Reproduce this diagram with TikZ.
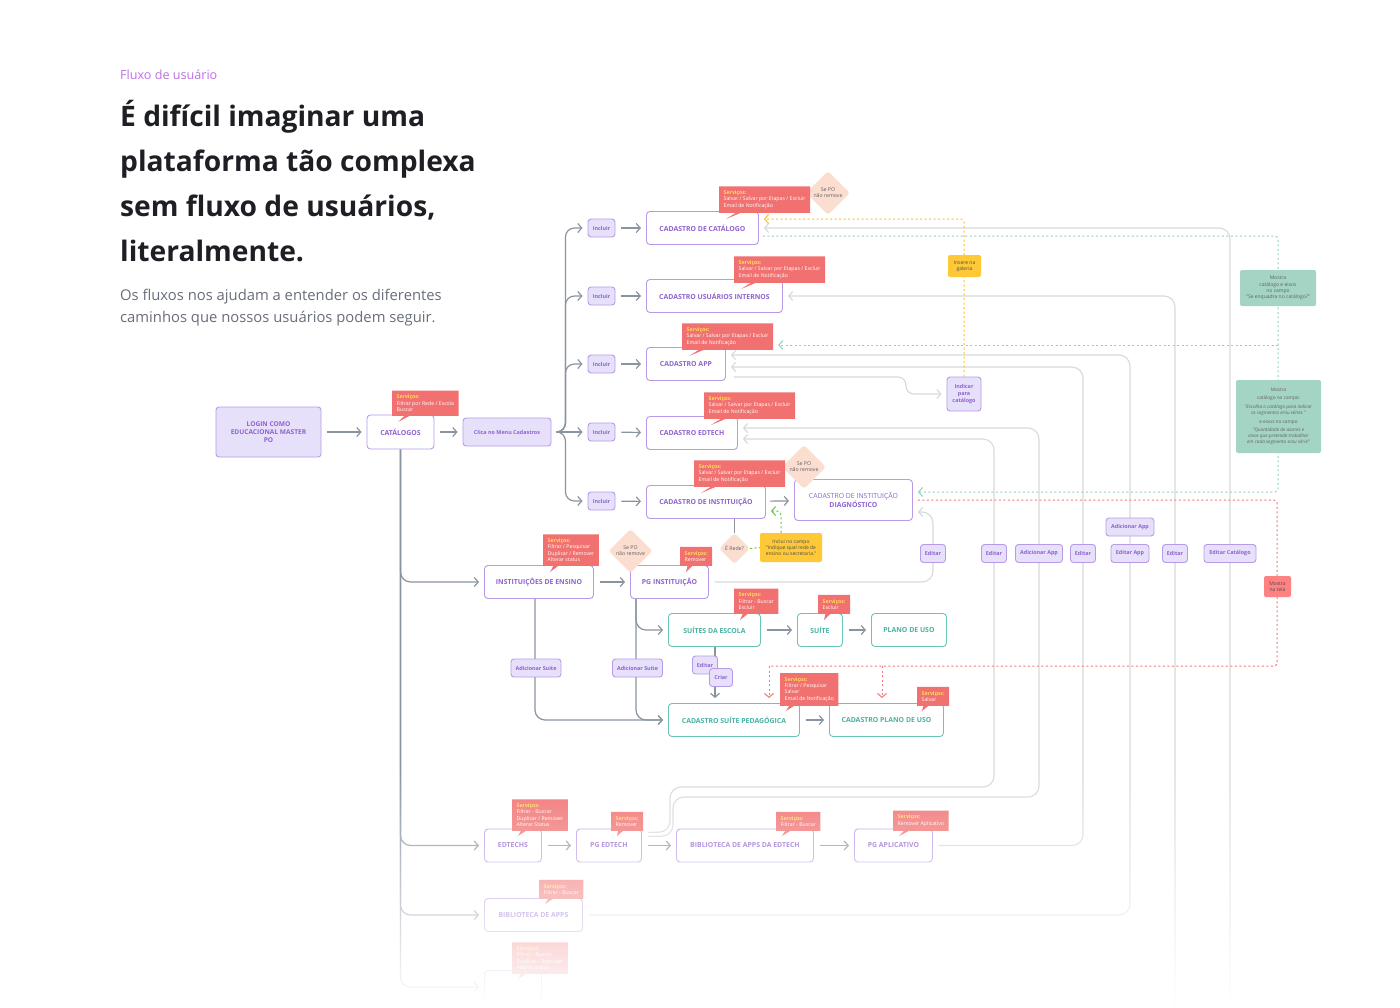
\documentclass[tikz,border=0pt]{standalone}
\usepackage{fontspec}
\setmainfont{Open Sans}
\usetikzlibrary{arrows.meta,positioning,calc,backgrounds,shapes.geometric,shapes.callouts,fadings}
\definecolor{ink}{RGB}{30,31,36}
\definecolor{orchid}{RGB}{190,112,226}
\definecolor{slate}{RGB}{105,110,122}
\definecolor{violet}{RGB}{142,98,206}
\definecolor{lilac}{RGB}{184,154,232}
\definecolor{lavender}{RGB}{231,224,250}
\definecolor{teal}{RGB}{72,178,162}
\definecolor{tealline}{RGB}{104,198,184}
\definecolor{salmon}{RGB}{241,113,113}
\definecolor{butter}{RGB}{255,222,86}
\definecolor{peach}{RGB}{252,222,209}
\definecolor{amber}{RGB}{255,200,55}
\definecolor{sage}{RGB}{164,212,195}
\definecolor{rose}{RGB}{255,130,130}
\definecolor{steel}{RGB}{138,148,160}
\definecolor{linegray}{RGB}{214,217,221}
\definecolor{mint}{RGB}{140,210,190}
\definecolor{gold}{RGB}{255,190,40}
\definecolor{coral}{RGB}{245,118,118}
\definecolor{lime}{RGB}{105,200,60}
\definecolor{graytext}{RGB}{95,95,100}
\newcommand{\servicos}{\textcolor{butter}{\bfseries Serviços:}}
\tikzfading[name=fadedown,top color=transparent!100,bottom color=transparent!0]
\tikzset{
  flow/.style={line width=1.2pt,steel,-{Straight Barb[length=4pt,width=9pt]},
    shorten >=5pt,shorten <=6pt},
  link/.style={line width=1.2pt,steel},
  ret/.style={line width=1.1pt,linegray,rounded corners=11pt,
    -{Straight Barb[length=4pt,width=9pt]},shorten >=5pt,shorten <=6pt},
  screen/.style={draw=lilac,line width=0.9pt,fill=white,rounded corners=3.5pt,
    minimum height=33pt,text=violet,align=center,inner sep=2pt,
    font=\fontsize{6.9}{8.2}\selectfont\bfseries},
  suite/.style={screen,draw=tealline,text=teal},
  act/.style={draw=lilac,line width=0.9pt,fill=lavender,rounded corners=3pt,
    text=violet,align=center,inner sep=2pt,minimum height=18pt,
    font=\fontsize{5.4}{6.6}\selectfont\bfseries},
  srv/.style={rectangle callout,fill=salmon,text=white,align=left,
    font=\fontsize{5.2}{6.3}\selectfont,inner xsep=4.5pt,inner ysep=4.3pt,
    callout pointer width=5pt,anchor=south west},
  veto/.style={diamond,fill=peach,rounded corners=3pt,minimum width=44pt,
    minimum height=44pt,inner sep=0pt,text=graytext,align=center,
    font=\fontsize{5.2}{6.2}\selectfont},
  memo/.style={fill=amber,rounded corners=2pt,text=ink!80,align=center,
    inner sep=2pt,font=\fontsize{5}{6.3}\selectfont},
  hint/.style={fill=sage,rounded corners=2pt,text=ink!70,align=center,
    inner sep=2pt,font=\fontsize{5}{6.3}\selectfont},
  mintdot/.style={line width=1pt,mint,dash pattern=on 2pt off 2.5pt,rounded corners=3pt},
  golddot/.style={line width=1pt,gold,dash pattern=on 2pt off 2.5pt,rounded corners=3pt},
  coraldot/.style={line width=1pt,coral,dash pattern=on 2pt off 2.5pt,rounded corners=3pt},
  limedot/.style={line width=1pt,lime,dash pattern=on 2pt off 2.5pt,rounded corners=4pt},
  tip/.style={-{Straight Barb[length=4pt,width=9pt]},shorten >=5pt}
}

\begin{document}
\begin{tikzpicture}[x=1pt,y=-1pt]
  \begin{scope}[on background layer]
    \fill[white] (0,0) rectangle (1400,1007);
  \end{scope}
  \useasboundingbox (0,0) rectangle (1400,1007);

  % header
  \node[anchor=base west,inner sep=0pt,text=orchid,font=\fontsize{12.6}{14}\selectfont] (kicker) at (120,79) {Fluxo de usuário};
  \node[anchor=base west,inner sep=0pt,text=ink,font=\fontsize{28.2}{33}\selectfont\bfseries] (head1) at (120,126) {É difícil imaginar uma};
  \node[anchor=base west,inner sep=0pt,text=ink,font=\fontsize{28.2}{33}\selectfont\bfseries] (head2) at (120,171) {plataforma tão complexa};
  \node[anchor=base west,inner sep=0pt,text=ink,font=\fontsize{28.2}{33}\selectfont\bfseries] (head3) at (120,216) {sem fluxo de usuários,};
  \node[anchor=base west,inner sep=0pt,text=ink,font=\fontsize{28.2}{33}\selectfont\bfseries] (head4) at (120,261) {literalmente.};
  \node[anchor=base west,inner sep=0pt,text=slate,font=\fontsize{14.8}{17}\selectfont] (lede1) at (120,300) {Os fluxos nos ajudam a entender os diferentes};
  \node[anchor=base west,inner sep=0pt,text=slate,font=\fontsize{14.8}{17}\selectfont] (lede2) at (120,322) {caminhos que nossos usuários podem seguir.};

  % entrada
  \node[act,minimum width=105pt,minimum height=50pt,font=\fontsize{6.6}{8.2}\selectfont\bfseries] (login) at (268.5,432) {LOGIN COMO\\EDUCACIONAL MASTER\\PO};
  \node[screen,minimum width=67pt,minimum height=34pt] (catalogos) at (400.5,432) {CATÁLOGOS};
  \node[act,minimum width=88pt,minimum height=28pt] (menu) at (507,432) {Clica no Menu Cadastros};
  \node[srv,callout absolute pointer={(398,422)}] (catalogossrv) at (392,416) {\servicos\\Filtrar por Rede / Escola\\Buscar};

  % cadastros
  \node[act,minimum width=27pt] (inc1) at (601.5,228) {Incluir};
  \node[act,minimum width=27pt] (inc2) at (601.5,296) {Incluir};
  \node[act,minimum width=27pt] (inc3) at (601.5,364) {Incluir};
  \node[act,minimum width=27pt] (inc4) at (601.5,432) {Incluir};
  \node[act,minimum width=27pt] (inc5) at (601.5,501) {Incluir};
  \node[screen,minimum width=112pt,anchor=west] (cat) at (646,228) {CADASTRO DE CATÁLOGO};
  \node[screen,minimum width=136pt,anchor=west] (usu) at (646,296) {CADASTRO USUÁRIOS INTERNOS};
  \node[screen,minimum width=79pt,anchor=west] (app) at (646,364) {CADASTRO APP};
  \node[screen,minimum width=91pt,anchor=west] (edt) at (646,433) {CADASTRO EDTECH};
  \node[screen,minimum width=119pt,anchor=west] (inst) at (646,502) {CADASTRO DE INSTITUIÇÃO};
  \node[screen,minimum width=118pt,minimum height=41pt,anchor=west,font=\fontsize{6.9}{8.6}\selectfont] (diag) at (794,500) {CADASTRO DE INSTITUIÇÃO\\\textbf{DIAGNÓSTICO}};
  \node[veto] (catveto) at (828,193) {Se PO\\não remove};
  \node[srv,callout absolute pointer={(726,219)}] (catsrv) at (719,213) {\servicos\\Salvar / Salvar por Etapas / Excluir\\Email de Notificação};
  \node[srv,callout absolute pointer={(741,289)}] (ususrv) at (734,283) {\servicos\\Salvar / Salvar por Etapas / Excluir\\Email de Notificação};
  \node[srv,callout absolute pointer={(689,356)}] (appsrv) at (682,350) {\servicos\\Salvar / Salvar por Etapas / Excluir\\Email de Notificação};
  \node[srv,callout absolute pointer={(711,425)}] (edtsrv) at (704,419) {\servicos\\Salvar / Salvar por Etapas / Excluir\\Email de Notificação};
  \node[veto] (instveto) at (804,467) {Se PO\\não remove};
  \node[srv,callout absolute pointer={(701,493)}] (instsrv) at (694,487) {\servicos\\Salvar / Salvar por Etapas / Excluir\\Email de Notificação};
  \node[veto,minimum width=31pt,minimum height=31pt] (rede) at (734.5,548.5) {É Rede?};
  \node[memo,minimum width=62pt,minimum height=29pt] (campo) at (791,547.5) {Inclui no campo\\"Indique qual rede de\\ensino ou secretaria."};
  \node[act,minimum width=34pt,minimum height=34pt] (indicar) at (964,394) {Indicar\\para\\catálogo};
  \node[memo,minimum width=33pt,minimum height=22pt] (galeria) at (964.5,266) {Insere na\\galeria};
  \node[hint,minimum width=76pt,minimum height=36pt] (mostra1) at (1278,288) {Mostra\\catálogo e eixos\\no campo\\"Se enquadra no catálogo?"};
  \node[hint,minimum width=85pt,minimum height=73pt,font=\fontsize{4.7}{6.1}\selectfont] (mostra2) at (1278.5,416.5) {Mostra\\[2.4pt]catálogo no campo:\\[2.4pt]\textit{"Escolha o catálogo para indicar}\\\textit{os segmentos e/ou séries."}\\[2.4pt]e eixos no campo\\[2.4pt]\textit{"Quantidade de alunos e}\\\textit{eixos que pretende trabalhar}\\\textit{em cada segmento e/ou série"}};
  \node[memo,fill=rose,minimum width=27pt,minimum height=21pt] (tela) at (1277.5,586.5) {Mostra\\na tela};

  % botoes de retorno
  \node[act,minimum width=25pt] (editdiag) at (933,553.5) {Editar};
  \node[act,minimum width=25pt] (editedt) at (994,553.5) {Editar};
  \node[act,minimum width=47pt] (addedt) at (1039,553.5) {Adicionar App};
  \node[act,minimum width=25pt] (editapp) at (1083,553.5) {Editar};
  \node[act,minimum width=48pt] (addapp) at (1130,527) {Adicionar App};
  \node[act,minimum width=38pt] (editapp2) at (1130,553.5) {Editar App};
  \node[act,minimum width=25pt] (editusu) at (1175,553.5) {Editar};
  \node[act,minimum width=52pt] (editcat) at (1230,553.5) {Editar Catálogo};

  % instituicoes e suites
  \node[screen,minimum width=109pt,anchor=west] (escolas) at (484,582) {INSTITUIÇÕES DE ENSINO};
  \node[screen,minimum width=78pt,anchor=west] (pginst) at (630,582) {PG INSTITUIÇÃO};
  \node[srv,callout absolute pointer={(550,572)}] (escolassrv) at (543,566) {\servicos\\Filtrar / Pesquisar\\Duplicar / Remover\\Alterar status};
  \node[veto] (pgveto) at (630.5,551) {Se PO\\não remove};
  \node[srv,callout absolute pointer={(686,572)}] (pginstsrv) at (680,566) {\servicos\\Remover};
  \node[suite,minimum width=92pt,anchor=west] (suites) at (668,630) {SUÍTES DA ESCOLA};
  \node[suite,minimum width=45pt,anchor=west] (suite) at (797,630) {SUÍTE};
  \node[suite,minimum width=75pt,anchor=west] (plano) at (871,630) {PLANO DE USO};
  \node[srv,callout absolute pointer={(740,620)}] (suitessrv) at (734,614) {\servicos\\Filtrar - Buscar\\Excluir};
  \node[srv,callout absolute pointer={(824,620)}] (suitesrv) at (818,614) {\servicos\\Excluir};
  \node[suite,minimum width=131pt,anchor=west] (suiteped) at (668,720) {CADASTRO SUÍTE PEDAGÓGICA};
  \node[suite,minimum width=114pt,anchor=west] (planocad) at (829,720) {CADASTRO PLANO DE USO};
  \node[srv,callout absolute pointer={(786,711)}] (suitepedsrv) at (780,706) {\servicos\\Filtrar / Pesquisar\\Salvar\\Email de Notificação};
  \node[srv,callout absolute pointer={(922,711)}] (planocadsrv) at (917,706) {\servicos\\Salvar};
  \node[act,minimum width=50pt] (addsuite1) at (536,668) {Adicionar Suite};
  \node[act,minimum width=50pt] (addsuite2) at (637.5,668) {Adicionar Suite};
  \node[act,minimum width=25pt] (editsuite) at (705,665) {Editar};
  \node[act,minimum width=23pt] (criar) at (721,677.5) {Criar};

  % edtechs e apps
  \node[screen,minimum width=57pt,anchor=west] (edtechs) at (484,845.5) {EDTECHS};
  \node[screen,minimum width=65pt,anchor=west] (pgedt) at (576,845.5) {PG EDTECH};
  \node[screen,minimum width=137pt,anchor=west] (bibedt) at (676,845.5) {BIBLIOTECA DE APPS DA EDTECH};
  \node[screen,minimum width=78pt,anchor=west] (pgapp) at (854,845.5) {PG APLICATIVO};
  \node[srv,callout absolute pointer={(518,836)}] (edtechssrv) at (512,831) {\servicos\\Filtrar - Buscar\\Duplicar / Remover\\Alterar Status};
  \node[srv,callout absolute pointer={(617,836)}] (pgedtsrv) at (611,831) {\servicos\\Remover};
  \node[srv,callout absolute pointer={(782,836)}] (bibedtsrv) at (776,831) {\servicos\\Filtrar - Buscar};
  \node[srv,callout absolute pointer={(899,836)}] (pgappsrv) at (893,831) {\servicos\\Remover Aplicativo};
  \node[screen,minimum width=98pt,anchor=west] (bib) at (484,915) {BIBLIOTECA DE APPS};
  \node[srv,callout absolute pointer={(545,904)}] (bibsrv) at (539,899) {\servicos\\Filtrar - Buscar};
  \node[screen,minimum width=57pt,anchor=west] (extra) at (484,987) {};
  \node[srv,callout absolute pointer={(518,979)}] (extrasrv) at (512,974) {\servicos\\Filtrar - Buscar\\Duplicar / Remover\\Alterar Status};

  \coordinate (catfoot) at (1230,1007);
  \coordinate (usufoot) at (1175,1007);
  \coordinate (appa) at (1130,355);
  \coordinate (appb) at (1083,367);
  \coordinate (appc) at (906,377);
  \coordinate (edta) at (1039,428);
  \coordinate (edtb) at (994,439);
  \coordinate (dg) at (933,512);
  \coordinate (gal) at (964,219);
  \coordinate (mt) at (1278,236);
  \coordinate (mm) at (1278,345);
  \coordinate (mb) at (1278,492);
  \coordinate (cr) at (1277,666);
  \coordinate (cl) at (769,666);
  \coordinate (cm) at (882,666);
  \coordinate (lm) at (781,511);

  \begin{scope}[on background layer]
    % fluxo principal
    \draw[flow] (login) -- (catalogos);
    \draw[flow] (catalogos) -- (menu);
    \draw[flow,rounded corners=9pt] (menu.east) -- ++(14,0) |- (inc1.west);
    \draw[flow,rounded corners=9pt] (menu.east) -- ++(14,0) |- (inc2.west);
    \draw[flow,rounded corners=9pt] (menu.east) -- ++(14,0) |- (inc3.west);
    \draw[flow] (menu.east) -- (inc4.west);
    \draw[flow,rounded corners=9pt] (menu.east) -- ++(14,0) |- (inc5.west);
    \draw[flow] (inc1) -- (cat);
    \draw[flow] (inc2) -- (usu);
    \draw[flow] (inc3) -- (app);
    \draw[flow] (inc4) -- (edt);
    \draw[flow] (inc5) -- (inst);
    \draw[flow,shorten <=4pt] (inst) -- (diag);
    \draw[link] (inst.south -| rede) -- (rede.north);
    \draw[flow,rounded corners=10pt,shorten <=0pt] (catalogos.south) |- (escolas.west);
    \draw[flow,rounded corners=10pt,shorten <=0pt] (catalogos.south) |- (edtechs.west);
    \draw[flow,rounded corners=10pt,shorten <=0pt] (catalogos.south) |- (bib.west);
    \draw[flow,rounded corners=10pt,shorten <=0pt] (catalogos.south) |- (extra.west);
    \draw[flow] (escolas) -- (pginst);
    \draw[flow,rounded corners=10pt,shorten <=0pt] ($(escolas.south west)+(51,0)$) |- (suiteped.west);
    \draw[flow,rounded corners=10pt,shorten <=0pt] ($(pginst.south west)+(6,0)$) |- (suites.west);
    \draw[flow,rounded corners=10pt,shorten <=0pt] ($(pginst.south west)+(6,0)$) |- (suiteped.west);
    \draw[flow,shorten <=0pt] ($(suites.south west)+(47,0)$) -- ($(suiteped.north west)+(47,0)$);
    \draw[flow] (suites) -- (suite);
    \draw[flow] (suite) -- (plano);
    \draw[flow] (suiteped) -- (planocad);
    \draw[flow] (edtechs) -- (pgedt);
    \draw[flow] (pgedt) -- (bibedt);
    \draw[flow] (bibedt) -- (pgapp);

    % retornos
    \draw[ret,shorten <=0pt] (catfoot) |- (cat.east);
    \draw[ret,shorten <=0pt] (usufoot) |- (usu.east);
    \draw[ret] (bib.east) -| (appa) -- (app.east |- appa);
    \draw[ret] (pgapp.east) -| (appb) -- (app.east |- appb);
    \draw[ret,rounded corners=8pt,shorten <=0pt] ($(app.east)+(8,13)$) -- (appc) |- (indicar.west);
    \draw[ret] ($(pgedt.east)+(0,-9)$) -- (673,836) -- (673,797) -- (1039,797) -- (edta) -- (edt.east |- edta);
    \draw[ret] ($(pgedt.east)+(0,-13)$) -- (670,832) -- (670,787) -- (994,787) -- (edtb) -- (edt.east |- edtb);
    \draw[ret] (pginst.east) -| (dg) -- (diag.east |- dg);

    % pontilhados
    \draw[golddot,tip] (indicar.north) -- (gal) -- (cat.east |- gal);
    \draw[mintdot,tip,shorten <=4pt] (cat.east |- mt) -- (mt) -- (mb) -- (diag.east |- mb);
    \draw[mintdot,tip] (mm) -- (appsrv.east |- mm);
    \draw[coraldot,shorten <=5pt] (diag.east) -| (cr) -- (cl);
    \draw[coraldot,tip] (cl) -- (cl |- suiteped.north);
    \draw[coraldot,tip] (cm) -- (cm |- planocad.north);
    \draw[limedot] (rede.east) -- (campo.west);
    \draw[limedot,tip] (lm |- campo.north) -- (lm) -- (inst.east |- lm);
  \end{scope}

  % esmaecer a base
  \fill[white,path fading=fadedown] (0,765) rectangle (1400,1007);
\end{tikzpicture}
\end{document}
